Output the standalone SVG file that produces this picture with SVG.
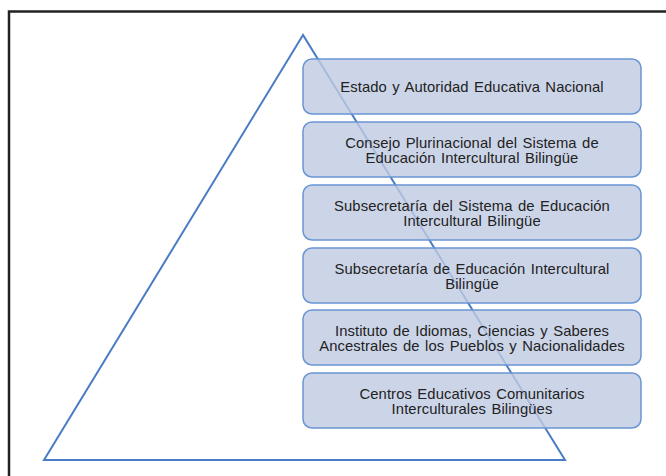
<svg xmlns="http://www.w3.org/2000/svg" width="666" height="476" viewBox="0 0 666 476">
<style>
.box{fill:#bfcae2;fill-opacity:0.8;stroke:#6a95d4;stroke-width:1.5}
.t{font-family:"Liberation Sans",Arial,sans-serif;font-size:14.8px;letter-spacing:0.1px;word-spacing:1.2px;fill:#222;text-anchor:middle}
</style>
<rect x="0" y="0" width="666" height="476" fill="#fff"/>
<rect x="9" y="11.5" width="680" height="480" fill="none" stroke="#222" stroke-width="2.5"/>
<g id="connectors">
<polygon points="303,35 44,460 565,460" fill="none" stroke="#4a7cc4" stroke-width="2"/>
</g>
<g id="n1"><rect class="box" x="303" y="59" width="338" height="55" rx="9"/><text class="t" x="472" y="91.5">Estado y Autoridad Educativa Nacional</text></g>
<g id="n2"><rect class="box" x="303" y="122" width="338" height="55" rx="9"/><text class="t" x="472" y="147.5">Consejo Plurinacional del Sistema de</text><text class="t" x="472" y="162.5">Educación Intercultural Bilingüe</text></g>
<g id="n3"><rect class="box" x="303" y="185" width="338" height="55" rx="9"/><text class="t" x="472" y="210.5">Subsecretaría del Sistema de Educación</text><text class="t" x="472" y="225.5">Intercultural Bilingüe</text></g>
<g id="n4"><rect class="box" x="303" y="248" width="338" height="55" rx="9"/><text class="t" x="472" y="273.5">Subsecretaría de Educación Intercultural</text><text class="t" x="472" y="288.5">Bilingüe</text></g>
<g id="n5"><rect class="box" x="303" y="310" width="338" height="55" rx="9"/><text class="t" x="472" y="335.5">Instituto de Idiomas, Ciencias y Saberes</text><text class="t" x="472" y="350.5">Ancestrales de los Pueblos y Nacionalidades</text></g>
<g id="n6"><rect class="box" x="303" y="373" width="338" height="55" rx="9"/><text class="t" x="472" y="398.5">Centros Educativos Comunitarios</text><text class="t" x="472" y="413.5">Interculturales Bilingües</text></g>
</svg>
